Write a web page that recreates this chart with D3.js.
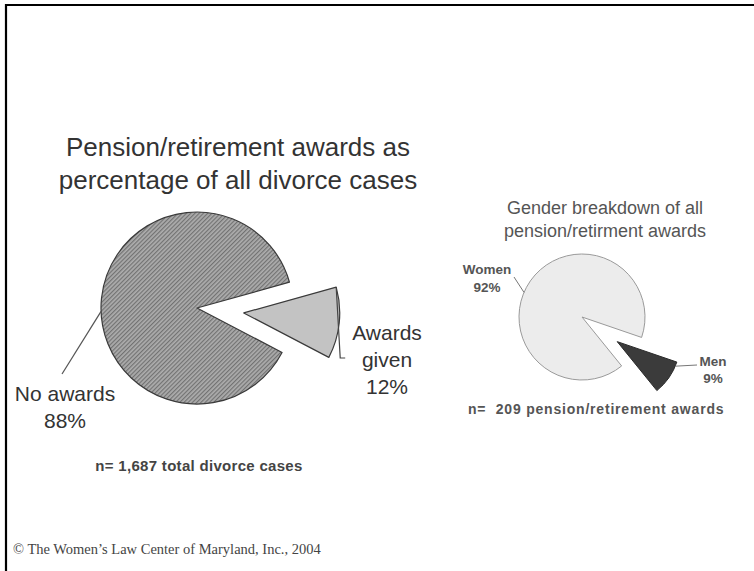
<!DOCTYPE html>
<html>
<head>
<meta charset="utf-8">
<script src="https://cdn.jsdelivr.net/npm/d3@7"></script>
<style>
  html, body { margin: 0; padding: 0; background: #fff; }
  svg { display: block; }
  text { font-family: "Liberation Sans", Arial, sans-serif; fill: #333; }
</style>
</head>
<body>
<svg id="chart" width="754" height="571"></svg>
<script>
// ---- data ----
const caseCategories = ["No awards", "Awards given"];
const caseValues = [88, 12];
const caseLabels = [["No awards", "88%"], ["Awards", "given", "12%"]];
const caseTitle = ["Pension/retirement awards as", "percentage of all divorce cases"];
const caseNote = "n= 1,687 total divorce cases";

const genderCategories = ["Women", "Men"];
const genderValues = [92, 9];
const genderLabels = [["Women", "92%"], ["Men", "9%"]];
const genderTitle = ["Gender breakdown of all", "pension/retirment awards"];
const genderNote = "n=\u00a0 209 pension/retirement awards";

const footer = "\u00a9 The Women\u2019s Law Center of Maryland, Inc., 2004";

// ---- drawing ----
const svg = d3.select("#chart");
const deg = Math.PI / 180;

// hatch pattern
const defs = svg.append("defs");
const pat = defs.append("pattern")
  .attr("id", "hatch").attr("patternUnits", "userSpaceOnUse")
  .attr("width", 3).attr("height", 3)
  .attr("patternTransform", "rotate(45)");
pat.append("rect").attr("width", 3).attr("height", 3).attr("fill", "#adadad");
pat.append("rect").attr("width", 1.2).attr("height", 3).attr("fill", "#727272");

// frame
svg.append("line").attr("x1", 5).attr("x2", 754).attr("y1", 5).attr("y2", 5)
  .attr("stroke", "#000").attr("stroke-width", 2.2);
svg.append("line").attr("x1", 6).attr("x2", 6).attr("y1", 4).attr("y2", 571)
  .attr("stroke", "#000").attr("stroke-width", 2.2);

// ---------- left pie ----------
const L = { cx: 197, cy: 308, r: 96, explode: 47 };
const pieL = d3.pie().sort(null).value(d => d)
  .startAngle(117.6 * deg).endAngle(117.6 * deg + 2 * Math.PI);
const arcsL = pieL(caseValues);
const arcL = d3.arc().innerRadius(0).outerRadius(L.r);
const gL = svg.append("g").attr("transform", `translate(${L.cx},${L.cy})`);
const fillsL = ["url(#hatch)", "#c3c3c3"];
gL.selectAll("path").data(arcsL).join("path")
  .attr("d", arcL)
  .attr("transform", (d, i) => {
    if (i !== 1) return null;
    const m = (d.startAngle + d.endAngle) / 2;
    return `translate(${Math.sin(m) * L.explode},${-Math.cos(m) * L.explode})`;
  })
  .attr("fill", (d, i) => fillsL[i])
  .attr("stroke", "#3a3a3a").attr("stroke-width", 1.2)
  .attr("stroke-linejoin", "round");

// left titles
svg.append("text").attr("x", 238).attr("text-anchor", "middle")
  .style("font-size", "26px")
  .selectAll("tspan").data(caseTitle).join("tspan")
  .attr("x", 238).attr("y", (d, i) => 156 + i * 33).text(d => d);

// left labels
const awardsArc = arcsL[1];
const aMid = (awardsArc.startAngle + awardsArc.endAngle) / 2;
const aOff = [Math.sin(aMid) * L.explode, -Math.cos(aMid) * L.explode];
const aCorner = [L.cx + aOff[0] + Math.sin(awardsArc.startAngle) * L.r,
                 L.cy + aOff[1] - Math.cos(awardsArc.startAngle) * L.r];
svg.append("path")
  .attr("d", `M${aCorner[0]},${aCorner[1]} L${aCorner[0] + 4},${358} L${aCorner[0] + 9},${358}`)
  .attr("fill", "none").attr("stroke", "#444").attr("stroke-width", 1.2);
svg.append("text").attr("text-anchor", "middle").style("font-size", "21px")
  .selectAll("tspan").data(caseLabels[1]).join("tspan")
  .attr("x", 387).attr("y", (d, i) => 340 + i * 27).text(d => d);

const nAng = 268 * deg;
const nP = [L.cx + Math.sin(nAng) * L.r, L.cy - Math.cos(nAng) * L.r];
svg.append("line").attr("x1", nP[0]).attr("y1", nP[1]).attr("x2", 62).attr("y2", 374)
  .attr("stroke", "#555").attr("stroke-width", 1.2);
svg.append("text").attr("text-anchor", "middle").style("font-size", "21px")
  .selectAll("tspan").data(caseLabels[0]).join("tspan")
  .attr("x", 65).attr("y", (d, i) => 401 + i * 27).text(d => d);

svg.append("text").attr("x", 199).attr("y", 471).attr("text-anchor", "middle")
  .style("font-size", "15px").style("font-weight", "bold").style("fill", "#444")
  .style("letter-spacing", "0.3px")
  .text(caseNote);

// ---------- right pie ----------
const R = { cx: 582, cy: 317, r: 63, explode: 43 };
const startR = 141 * deg;
const pieR = d3.pie().sort(null).value(d => d)
  .startAngle(startR).endAngle(startR + 2 * Math.PI);
const arcsR = pieR(genderValues);
const arcR = d3.arc().innerRadius(0).outerRadius(R.r);
const gR = svg.append("g").attr("transform", `translate(${R.cx},${R.cy})`);
const fillsR = ["#ececec", "#3b3b3b"];
const strokesR = ["#9a9a9a", "#2a2a2a"];
gR.selectAll("path").data(arcsR).join("path")
  .attr("d", arcR)
  .attr("transform", (d, i) => {
    if (i !== 1) return null;
    const m = (d.startAngle + d.endAngle) / 2;
    return `translate(${Math.sin(m) * R.explode},${-Math.cos(m) * R.explode})`;
  })
  .attr("fill", (d, i) => fillsR[i])
  .attr("stroke", (d, i) => strokesR[i]).attr("stroke-width", 1)
  .attr("stroke-linejoin", "round");

svg.append("text").attr("text-anchor", "middle").style("font-size", "18px")
  .style("fill", "#555")
  .selectAll("tspan").data(genderTitle).join("tspan")
  .attr("x", 605).attr("y", (d, i) => 214 + i * 23).text(d => d);

// Women label
const wAng = 293 * deg;
const wP = [R.cx + Math.sin(wAng) * R.r, R.cy - Math.cos(wAng) * R.r];
svg.append("line").attr("x1", 514).attr("y1", 277).attr("x2", wP[0]).attr("y2", wP[1])
  .attr("stroke", "#777").attr("stroke-width", 1);
svg.append("text").attr("text-anchor", "middle").style("font-size", "13.5px")
  .style("font-weight", "bold").style("fill", "#555")
  .selectAll("tspan").data(genderLabels[0]).join("tspan")
  .attr("x", 487).attr("y", (d, i) => 274 + i * 18).text(d => d);

// Men label
const menArc = arcsR[1];
const mMid = (menArc.startAngle + menArc.endAngle) / 2;
const mCornerAng = menArc.startAngle + 4 * deg;
const mC = [R.cx + Math.sin(mMid) * R.explode + Math.sin(mCornerAng) * R.r,
            R.cy - Math.cos(mMid) * R.explode - Math.cos(mCornerAng) * R.r];
svg.append("line").attr("x1", mC[0]).attr("y1", mC[1]).attr("x2", 697).attr("y2", 365)
  .attr("stroke", "#777").attr("stroke-width", 1);
svg.append("text").attr("text-anchor", "middle").style("font-size", "13.5px")
  .style("font-weight", "bold").style("fill", "#555")
  .selectAll("tspan").data(genderLabels[1]).join("tspan")
  .attr("x", 713).attr("y", (d, i) => 366 + i * 17).text(d => d);

svg.append("text").attr("x", 468).attr("y", 414)
  .style("font-size", "14px").style("font-weight", "bold").style("fill", "#555")
  .style("letter-spacing", "0.8px")
  .text(genderNote);

// footer
svg.append("text").attr("x", 13).attr("y", 554)
  .style("font-family", "'Liberation Serif', 'Times New Roman', serif")
  .style("font-size", "14.5px").style("fill", "#444")
  .text(footer);
</script>
</body>
</html>
